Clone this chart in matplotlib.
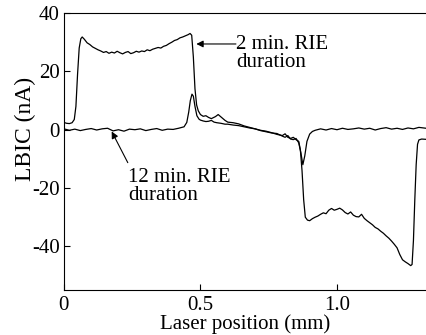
import matplotlib
matplotlib.use("Agg")
import matplotlib.pyplot as plt

# 2 min. RIE duration
x_2min = [0.0, 0.01, 0.02, 0.03, 0.038, 0.044, 0.05, 0.056, 0.062, 0.067, 0.075, 0.085,
          0.095, 0.105, 0.115, 0.125, 0.135, 0.145, 0.155, 0.165, 0.175, 0.185, 0.195,
          0.205, 0.215, 0.225, 0.235, 0.245, 0.255, 0.265, 0.275, 0.285, 0.295, 0.305,
          0.315, 0.325, 0.335, 0.345, 0.355, 0.365, 0.375, 0.385, 0.395, 0.405, 0.415,
          0.425, 0.435, 0.445, 0.455, 0.462, 0.468, 0.474, 0.48, 0.486, 0.492, 0.5,
          0.51, 0.52, 0.53, 0.54, 0.555, 0.565, 0.575, 0.59, 0.6, 0.62, 0.64, 0.66,
          0.68, 0.7, 0.72, 0.74, 0.76, 0.78, 0.8, 0.81, 0.82, 0.83, 0.84, 0.85, 0.86,
          0.866, 0.872, 0.878, 0.884, 0.892, 0.9, 0.91, 0.92, 0.93, 0.94, 0.95, 0.96,
          0.97, 0.98, 0.99, 1.0, 1.01, 1.02, 1.03, 1.04, 1.05, 1.06, 1.07, 1.08, 1.09,
          1.1, 1.11, 1.12, 1.13, 1.14, 1.15, 1.16, 1.17, 1.18, 1.19, 1.2, 1.21, 1.22,
          1.23, 1.24, 1.25, 1.26, 1.27, 1.275, 1.28, 1.285, 1.29, 1.295, 1.3, 1.31, 1.326]
y_2min = [2.5, 2.2, 2.1, 2.4, 3.5, 8, 19, 28, 31.2, 31.8, 31.0, 29.8,
          29.2, 28.4, 27.9, 27.4, 27.0, 26.5, 26.8, 26.2, 26.6, 26.3, 26.9,
          26.4, 26.0, 26.5, 26.8, 26.1, 26.4, 26.9, 26.6, 27.0, 26.8, 27.4,
          27.1, 27.6, 27.9, 28.2, 28.0, 28.6, 28.9, 29.5, 30.0, 30.6, 30.9,
          31.5, 31.8, 32.2, 32.6, 33.0, 32.4, 25, 14, 8.5, 6.5, 5.2,
          4.6, 4.8, 4.2, 3.8, 4.5, 5.2, 4.4, 3.2, 2.6, 2.4, 2.0, 1.3,
          0.8, 0.3, -0.2, -0.5, -1.0, -1.6, -2.0, -1.4, -2.6, -3.0, -2.6, -3.4, -4.0,
          -7, -14, -24, -30, -31, -31.2, -30.5, -30.0, -29.6, -29.0, -28.5, -28.8,
          -27.6, -27.0, -27.6, -27.3, -26.9, -27.5, -28.4, -28.9, -28.2, -29.3, -29.8, -29.9, -29.0,
          -30.4, -31.2, -31.9, -32.6, -33.5, -34.0, -34.8, -35.5, -36.4, -37.2, -38.2, -39.3,
          -40.5, -42.8, -44.6, -45.3, -45.9, -46.6, -46.2, -38, -24, -12, -5, -3.5, -3.2, -3.3]

# 12 min. RIE duration
x_12min = [0.0, 0.02, 0.04, 0.06, 0.08, 0.1, 0.12, 0.14, 0.16, 0.18, 0.2, 0.22, 0.24,
           0.26, 0.28, 0.3, 0.32, 0.34, 0.36, 0.38, 0.4, 0.42, 0.44, 0.45, 0.457, 0.463,
           0.469, 0.474, 0.48, 0.487, 0.495, 0.5, 0.51, 0.52, 0.53, 0.54, 0.55, 0.56,
           0.575, 0.59, 0.6, 0.62, 0.64, 0.66, 0.68, 0.7, 0.72, 0.74, 0.76, 0.78, 0.8,
           0.81, 0.82, 0.83, 0.84, 0.85, 0.86, 0.868, 0.875, 0.882, 0.89, 0.9, 0.91,
           0.92, 0.94, 0.96, 0.98, 1.0, 1.02, 1.04, 1.06, 1.08, 1.1, 1.12, 1.14, 1.16,
           1.18, 1.2, 1.22, 1.24, 1.26, 1.28, 1.3, 1.326]
y_12min = [0.3, -0.2, 0.2, -0.3, 0.1, 0.4, -0.1, 0.3, 0.5, -0.4, 0.0, -0.5, 0.2,
           0.0, 0.3, -0.3, 0.1, 0.4, -0.2, 0.2, 0.1, 0.5, 1.0, 2.5, 6.0, 10.0,
           12.2, 11.5, 8.0, 4.8, 3.6, 3.3, 3.0, 2.8, 2.9, 3.2, 2.6, 2.4,
           2.2, 1.9, 1.9, 1.6, 1.4, 1.0, 0.6, 0.3, -0.3, -0.7, -1.1, -1.3, -2.2,
           -2.6, -2.0, -3.2, -3.4, -3.0, -4.5, -8, -12, -9, -4, -1.5, -0.6,
           -0.2, 0.3, -0.1, 0.4, 0.0, 0.5, 0.1, 0.3, 0.6, 0.2, 0.5, -0.1, 0.4,
           0.7, 0.2, 0.5, 0.1, 0.6, 0.3, 0.8, 0.5]

x_ticks = [0, 0.5, 1.0]
x_tick_labels = ["0", "0.5", "1.0"]
y_ticks = [-40, -20, 0, 20, 40]

plt.rcParams["font.family"] = ["Liberation Serif", "DejaVu Serif"]
plt.rcParams["font.size"] = 15
plt.rcParams["axes.unicode_minus"] = False

fig = plt.figure(figsize=(4.26, 3.35), dpi=100)
ax = fig.add_axes([0.150, 0.134, 0.85, 0.827])

ax.plot(x_2min, y_2min, color="black", lw=0.9)
ax.plot(x_12min, y_12min, color="black", lw=0.9)

ax.set_xlim(0, 1.326)
ax.set_ylim(-55, 40)
ax.set_xticks(x_ticks)
ax.set_xticklabels(x_tick_labels)
ax.set_yticks(y_ticks)
ax.tick_params(direction="in", length=4, width=0.8, pad=3)
ax.tick_params(axis="x", pad=4)
ax.spines["right"].set_visible(False)

ax.set_xlabel("Laser position (mm)", labelpad=0)
ax.set_ylabel("LBIC (nA)", fontsize=17)
ax.yaxis.set_label_coords(-0.078, 0.58)

# arrows and their labels
ax.annotate("", xy=(0.485, 29.4), xytext=(0.63, 29.4),
            arrowprops=dict(arrowstyle="-|>", color="black", lw=0.8,
                            shrinkA=0, shrinkB=0, mutation_scale=10))
ax.text(0.632, 32.4, "2 min. RIE\nduration", va="top", ha="left", linespacing=0.9)

ax.annotate("", xy=(0.175, -0.6), xytext=(0.234, -11.3),
            arrowprops=dict(arrowstyle="-|>", color="black", lw=0.8,
                            shrinkA=0, shrinkB=0, mutation_scale=10))
ax.text(0.234, -13.2, "12 min. RIE\nduration", va="top", ha="left", linespacing=0.9)

fig.savefig("out.png", dpi=100)
